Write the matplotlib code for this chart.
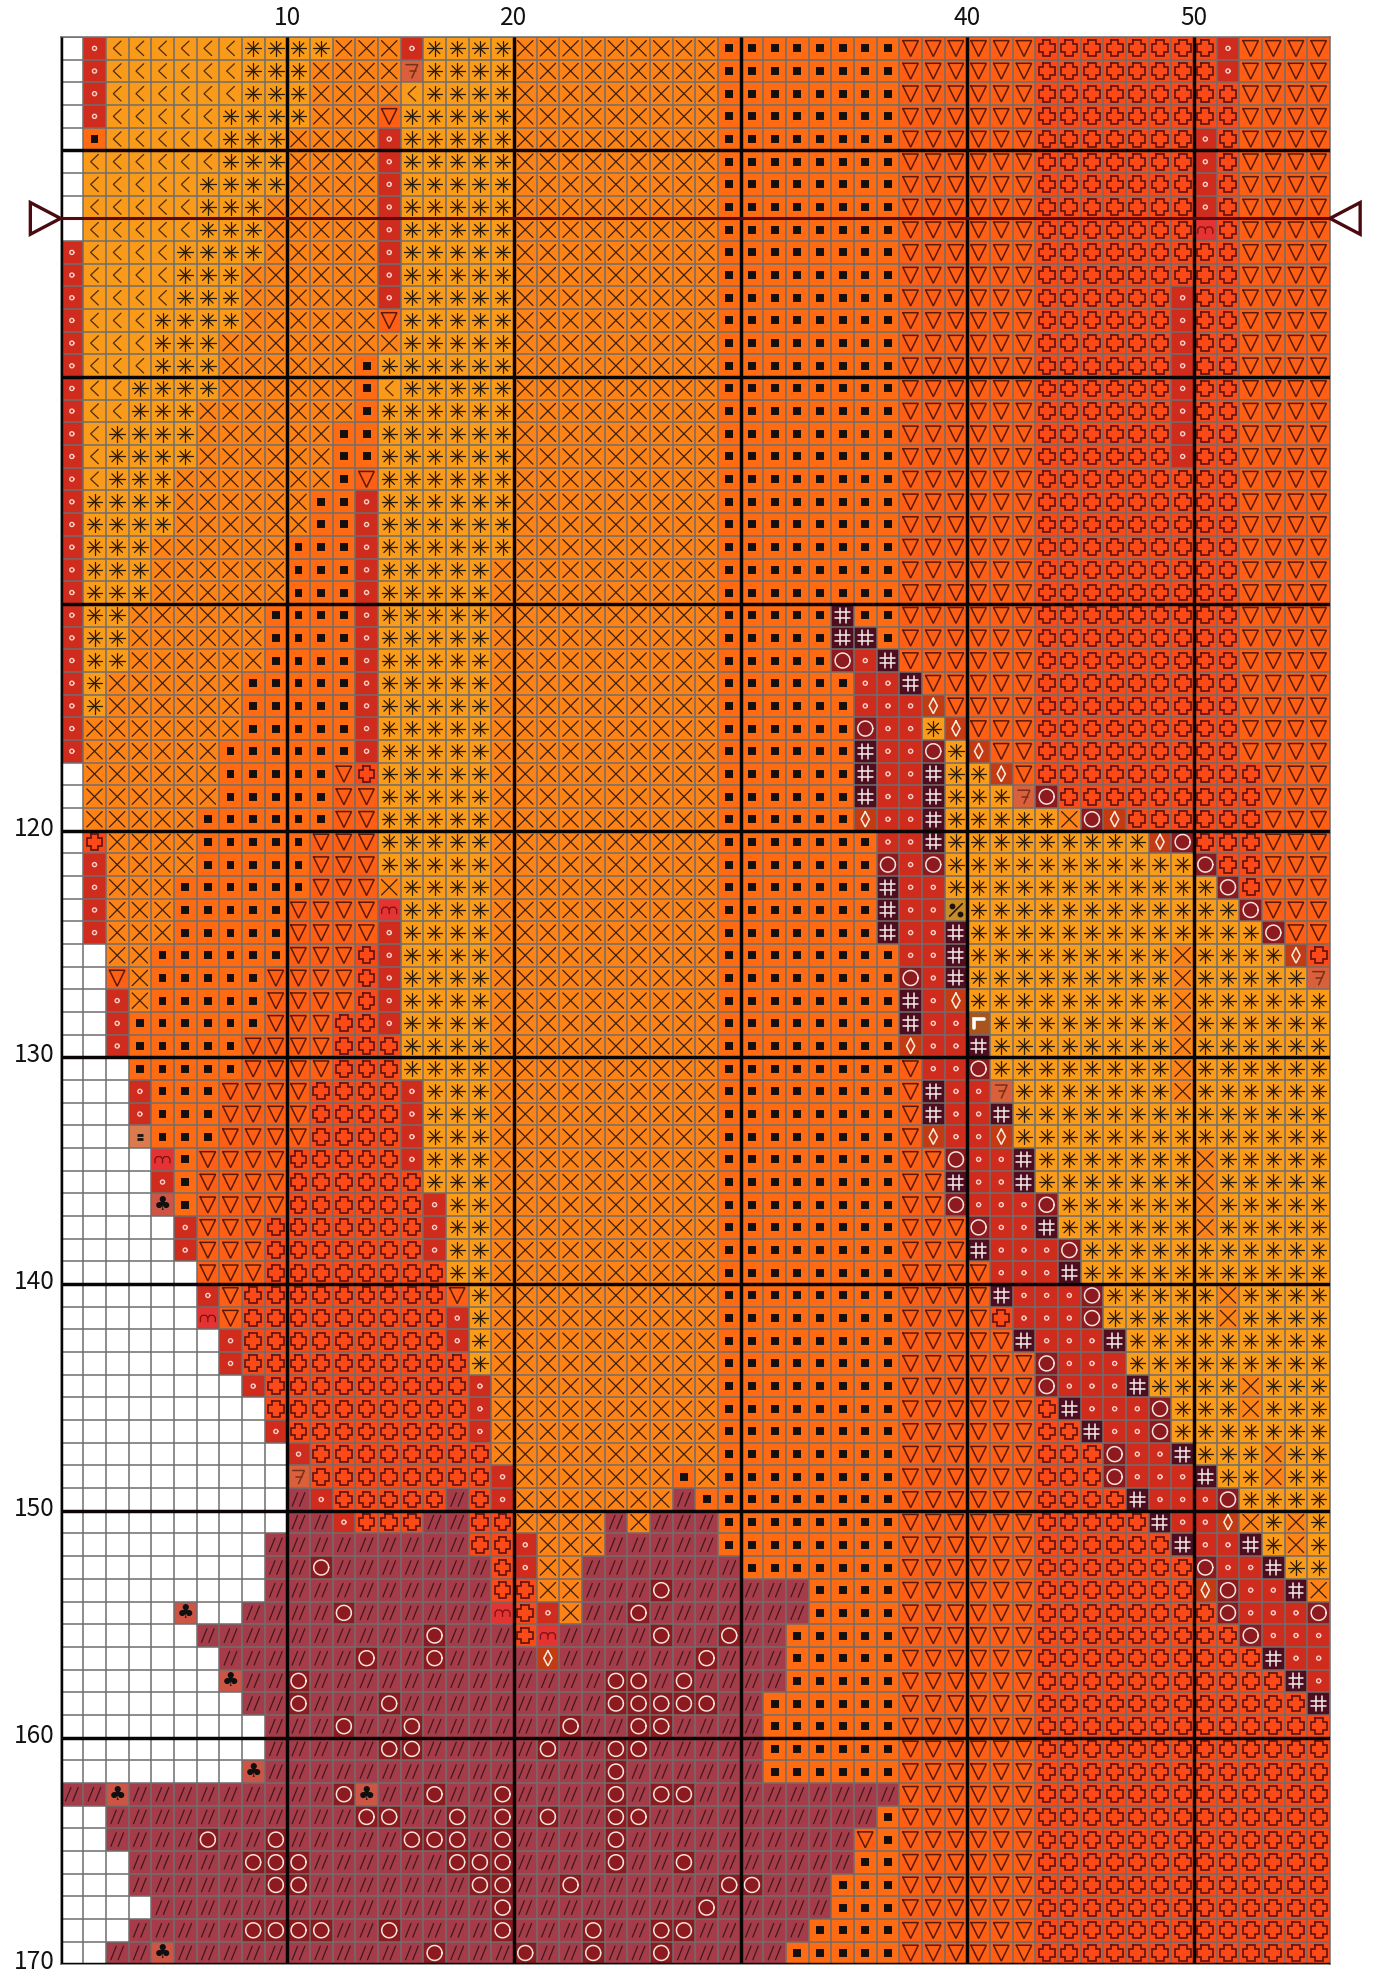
import numpy as np
import matplotlib
matplotlib.use("Agg")
import matplotlib.pyplot as plt
from matplotlib.collections import LineCollection
from matplotlib.colors import ListedColormap
from matplotlib.transforms import ScaledTranslation

# cross stitch chart, rows 86-170 and columns 1-56
first_row = 86
n_cols = 56

x_labels = [10, 20, 40, 50]
y_labels = [120, 130, 140, 150, 160, 170]
heavy_x = [0, 10, 20, 30, 40, 50]
heavy_y = [90, 100, 110, 120, 130, 140, 150, 160, 170]
center_row = 93

# one token per run: symbol + count
# . blank, o small ring, L chevron, S star, X cross, B square, T triangle, P plus
# O big ring, H hash, d diamond, / slashes, z seven, m em, c club, e equals, q percent, r corner
left_rows = [
    ". o L6 S4 X3 o S4 X9",
    ". o L6 S3 X4 z S4 X9",
    ". o L6 S3 X4 L S4 X9",
    ". o L5 S4 X3 T S5 X9",
    ". B L5 S3 X4 o S5 X9",
    ". L6 S3 X4 o S5 X9",
    ". L5 S4 X4 o S5 X9",
    ". L5 S3 X5 o S5 X9",
    ". L5 S3 X5 o S5 X9",
    "o L4 S4 X5 o S5 X9",
    "o L4 S3 X6 o S5 X9",
    "o L4 S3 X6 o S5 X9",
    "o L3 S4 X6 T S5 X9",
    "o L3 S3 X8 S5 X9",
    "o L3 S3 X6 B S6 X9",
    "o L2 S4 X6 B L S5 X9",
    "o L2 S3 X7 B S6 X9",
    "o L S4 X6 B2 S6 X9",
    "o L S4 X6 B2 S6 X9",
    "o L S3 X7 B T S6 X9",
    "o S4 X6 B2 o S6 X9",
    "o S4 X6 B2 o S6 X9",
    "o S3 X6 B3 o S6 X9",
    "o S3 X6 B3 o S5 X10",
    "o S3 X6 B3 o S5 X10",
    "o S2 X6 B4 o S5 X10",
    "o S2 X6 B4 o S5 X10",
    "o S2 X6 B4 o S5 X10",
    "o S X6 B5 o S5 X10",
    "o S X6 B5 o S5 X10",
    "o X7 B5 o S5 X10",
    "o X6 B6 o S5 X10",
    ". X6 B5 T P S5 X10",
    ". X6 B5 T2 S5 X10",
    ". X5 B6 T2 S5 X10",
    ". P X4 B5 T3 S5 X10",
    ". o X4 B5 T3 S5 X10",
    ". o X3 B6 T3 X S4 X10",
    ". o X3 B5 T4 m S4 X10",
    ". o X3 B5 T4 o S4 X10",
    ".2 X2 B6 T3 P o S4 X10",
    ".2 T X B5 T4 P o S4 X10",
    ".2 o X B5 T4 P o S4 X10",
    ".2 o B6 T3 P2 o S4 X10",
    ".2 o B5 T4 P3 S4 X10",
    ".3 B5 T4 P3 S4 X10",
    ".3 o B3 T4 P4 o S3 X10",
    ".3 o B3 T4 P4 o S3 X10",
    ".3 e B3 T4 P4 o S3 X10",
    ".4 m B T4 P5 o S3 X10",
    ".4 o B T4 P6 S3 X10",
    ".4 c B T4 P6 o S2 X10",
    ".5 o T3 P7 o S2 X10",
    ".5 o T3 P7 o S2 X10",
    ".6 T3 P8 S2 X10",
    ".6 o T P9 T S X10",
    ".6 m T P9 o S X10",
    ".7 o P9 o S X10",
    ".7 o P10 S X10",
    ".8 o P9 o X10",
    ".9 P9 o X10",
    ".9 o P8 o X10",
    ".10 o P8 X10",
    ".10 z P8 o X7 B X",
    ".10 / o P5 / P o X7 / B",
    ".10 /2 o P3 /2 P2 X4 / X /3",
    ".9 /9 P2 o X3 /5",
    ".9 /2 O /7 P o X2 /6",
    ".9 /10 P2 X2 /3 O /2",
    ".5 c .2 /4 O /6 m P o X /2 O /3",
    ".6 /10 O /3 P m /4 O /2",
    ".7 /6 O /2 O /4 d /6 O",
    ".7 c /2 O /13 O2 / O /",
    ".8 /2 O /3 O /9 O5",
    ".9 /3 O /2 O /6 O /2 O2 /2",
    ".9 /5 O2 /5 O /2 O2 /3",
    ".8 c /15 O /4",
    "/2 c /9 O c /2 O /2 O /4 O / O2 /",
    ".2 /11 O2 /2 O / O / O /2 O2 /3",
    ".2 /4 O /2 O /5 O3 / O /4 O /4",
    ".3 /5 O3 /6 O3 /4 O /2 O /",
    ".3 /6 O2 /7 O2 /2 O /6",
    ".4 /15 O /8 O",
    ".3 /5 O4 /2 O /4 O /3 O /2 O2 /",
    ".2 /2 c /11 O /3 O /2 O /2 O /2",
]

right_rows = [
    "B8 T6 P7 P o T4",
    "B8 T6 P7 P o T4",
    "B8 T6 P9 T4",
    "B8 T6 P9 T4",
    "B8 T6 P7 o P T4",
    "B8 T6 P7 o P T4",
    "B8 T6 P7 o P T4",
    "B8 T6 P7 o P T4",
    "B8 T6 P7 m P T4",
    "B8 T6 P9 T4",
    "B8 T6 P9 T4",
    "B8 T6 P6 o P2 T4",
    "B8 T6 P6 o P2 T4",
    "B8 T6 P6 o P2 T4",
    "B8 T6 P6 o P2 T4",
    "B8 T6 P6 o P2 T4",
    "B8 T6 P6 o P2 T4",
    "B8 T6 P6 o P2 T4",
    "B8 T6 P6 o P2 T4",
    "B8 T6 P9 T4",
    "B8 T6 P9 T4",
    "B8 T6 P9 T4",
    "B8 T6 P9 T4",
    "B8 T6 P9 T4",
    "B8 T6 P9 T4",
    "B5 H B2 T6 P9 T4",
    "B5 H2 B T6 P9 T4",
    "B5 O o H T6 P9 T4",
    "B6 o2 H T5 P9 T4",
    "B6 o3 d T4 P9 T4",
    "B6 O o2 S d T3 P9 T4",
    "B6 H o2 O S d T2 P9 T4",
    "B6 H o2 H S2 d T P10 T3",
    "B6 H o2 H S3 z O P9 T3",
    "B6 d o2 H S5 X O d P6 T3",
    "B7 o2 H S9 d O P3 T3",
    "B7 O o O S11 O P2 T3",
    "B7 H o2 S12 O P T3",
    "B7 H o2 q S12 O T3",
    "B7 H o2 H S13 O T2",
    "B8 o2 H S9 X S4 d P",
    "B8 O o H S9 X S5 z",
    "B8 H o d S9 X S6",
    "B8 H o2 r S8 X S6",
    "B8 d o2 H S8 X S6",
    "B8 T o2 O S8 X S6",
    "B8 T H o2 z S7 X S6",
    "B8 T H o2 H S14",
    "B8 T d o2 d S14",
    "B8 T2 O o2 H S7 X S5",
    "B8 T2 H o2 H S7 X S5",
    "B8 T2 O o3 O S6 X S5",
    "B8 T3 O o2 H S6 X S5",
    "B8 T3 H o3 O S11",
    "B8 T4 o3 H S11",
    "B8 T4 H o3 O S5 X S4",
    "B8 T4 P o3 O S5 X S4",
    "B8 T5 H o3 H S9",
    "B8 T6 O o3 S9",
    "B8 T6 O o3 H S4 X S3",
    "B8 T6 P H o3 O S3 X S3",
    "B8 T6 P2 H o2 O S7",
    "B8 T6 P3 O o2 H S3 X S2",
    "B8 T6 P3 O o3 H S2 X S2",
    "B8 T6 P4 H o3 O S4",
    "B8 T6 P5 H o2 d X S X S",
    "B8 T6 P6 H o2 H S X S",
    "/ B7 T6 P7 O o2 H S2",
    "/4 B4 T6 P7 d O o2 H X",
    "/4 B4 T6 P8 O o3 O",
    "O /2 B5 T6 P9 O o3",
    "/3 B5 T6 P10 H o2",
    "/3 B5 T6 P11 H o",
    "/2 B6 T6 P12 H",
    "/2 B6 T6 P13",
    "/2 B6 T6 P13",
    "/2 B6 T6 P13",
    "/8 T6 P13",
    "/7 B T6 P13",
    "/6 T B T6 P13",
    "/6 B2 T6 P13",
    "O2 /3 B3 T6 P13",
    "/5 B3 T6 P13",
    "/4 B4 T6 P13",
    "/3 B5 T6 P13",
]

fill_colors = {
    ".": "#ffffff", "L": "#f99a1a", "S": "#fa9b1a", "X": "#fd8317", "B": "#ff6b12",
    "T": "#fe5f14", "P": "#fb4a17", "o": "#cf2c1e", "O": "#8c1a1e", "H": "#4f0e20",
    "d": "#c43a12", "/": "#a63c4a", "z": "#d9603a", "m": "#e53333", "c": "#cc5546",
    "e": "#db7b4d", "q": "#c98b24", "r": "#a8541c",
}


def expand(row):
    cells = []
    for tok in row.split():
        cells += [tok[0]] * int(tok[1:] or 1)
    return cells


grid = [expand(a + " " + b) for a, b in zip(left_rows, right_rows)]
for i, r in enumerate(grid):
    assert len(r) == n_cols, (i + first_row, len(r))

syms = list(fill_colors)
idx = np.array([[syms.index(c) for c in r] for r in grid])

t = np.linspace(0, 2 * np.pi, 33)
d = 0.33 * np.sqrt(0.5)


def ring(rad):
    return [list(zip(rad * np.cos(t), rad * np.sin(t)))]


# symbol outlines, in cell units around the cell centre (y goes down)
glyphs = {
    "L": ("#4a2c0c", 0.9, [[(0.17, -0.32), (-0.17, 0), (0.17, 0.32)]]),
    "S": ("#2a1a08", 0.9, [[(0, -0.34), (0, 0.34)], [(-0.34, 0), (0.34, 0)],
                           [(-d, -d), (d, d)], [(-d, d), (d, -d)]]),
    "X": ("#3b1f0c", 0.9, [[(-0.34, -0.34), (0.34, 0.34)], [(-0.34, 0.34), (0.34, -0.34)]]),
    "B": ("#141010", 5.7, [[(-0.175, 0), (0.175, 0)]]),
    "T": ("#5a1a0a", 1.1, [[(-0.34, -0.34), (0.34, -0.34), (0, 0.36), (-0.34, -0.34)]]),
    "P": ("#5f1210", 1.2, [[(-0.17, -0.35), (0.17, -0.35), (0.17, -0.17), (0.35, -0.17),
                            (0.35, 0.17), (0.17, 0.17), (0.17, 0.35), (-0.17, 0.35),
                            (-0.17, 0.17), (-0.35, 0.17), (-0.35, -0.17), (-0.17, -0.17),
                            (-0.17, -0.35)]]),
    "o": ("#f8d0c8", 1.0, ring(0.09)),
    "O": ("#f5e4de", 1.1, ring(0.33)),
    "H": ("#f5eeee", 1.1, [[(-0.13, -0.33), (-0.13, 0.33)], [(0.13, -0.33), (0.13, 0.33)],
                           [(-0.33, -0.13), (0.33, -0.13)], [(-0.33, 0.13), (0.33, 0.13)]]),
    "d": ("#fbeee0", 1.1, [[(0, -0.34), (0.18, 0), (0, 0.34), (-0.18, 0), (0, -0.34)]]),
    "/": ("#3d1a1c", 0.9, [[(-0.28, 0.3), (-0.04, -0.3)], [(0.04, 0.3), (0.28, -0.3)]]),
    "z": ("#7a3018", 1.1, [[(-0.26, -0.28), (0.26, -0.28), (0.0, 0.3)], [(-0.1, 0.0), (0.16, 0.0)]]),
    "m": ("#7a1010", 0.9, [[(-0.33, 0.16), (-0.33, -0.02), (-0.25, -0.12), (-0.08, -0.12),
                            (0, -0.02), (0, 0.16)],
                           [(0, -0.02), (0.08, -0.12), (0.25, -0.12), (0.33, -0.02), (0.33, 0.16)]]),
    "e": ("#1c1410", 2.0, [[(-0.14, -0.09), (0.14, -0.09)], [(-0.14, 0.09), (0.14, 0.09)]]),
    "q": ("#1c1410", 1.1, [[(0.28, -0.28), (-0.28, 0.28)]]),
    "r": ("#ffffff", 2.6, [[(-0.22, 0.2), (-0.22, -0.2), (0.22, -0.2)]]),
}

fig = plt.figure(figsize=(13.77, 19.70), dpi=100)
ax = fig.add_axes([60.5 / 1377, 5.7 / 1970, 1269.5 / 1377, 1927.3 / 1970])

xe = np.arange(n_cols + 1)
ye = np.arange(first_row - 1, first_row + len(grid))
ax.pcolormesh(xe, ye, idx, cmap=ListedColormap([fill_colors[s] for s in syms]),
              vmin=0, vmax=len(syms) - 1, zorder=1)
ax.set_xlim(xe[0], xe[-1])
ax.set_ylim(ye[-1], ye[0])

# thin grid
ax.vlines(xe, ye[0], ye[-1], color="#6e6e6e", lw=1.1, zorder=2)
ax.hlines(ye, xe[0], xe[-1], color="#6e6e6e", lw=1.1, zorder=2)

# symbols
for sym, (col, lw, parts) in glyphs.items():
    segs = []
    rows, cols = np.where(np.array(grid) == sym)
    for r, c in zip(rows, cols):
        cx = c + 0.5
        cy = first_row + r - 0.5
        for p in parts:
            segs.append([(cx + px, cy + py) for px, py in p])
    capstyle = "butt" if sym in ("B", "e") else "round"
    ax.add_collection(LineCollection(segs, colors=col, linewidths=lw, zorder=3,
                                     capstyle=capstyle, joinstyle="miter"))

for r, c in zip(*np.where(np.array(grid) == "c")):
    ax.text(c + 0.5, first_row + r - 0.5, "\u2663", color="#101010", fontsize=14,
            family="DejaVu Sans", ha="center", va="center", zorder=3)
for r, c in zip(*np.where(np.array(grid) == "q")):
    ax.plot([c + 0.5 - 0.17, c + 0.5 + 0.17], [first_row + r - 0.5 - 0.17, first_row + r - 0.5 + 0.17],
            "o", color="#1c1410", ms=3.2, zorder=3)

# heavy ten-count lines
ax.vlines(heavy_x, ye[0], ye[-1], color="#0a0505", lw=2.5, zorder=4)
ax.hlines(heavy_y, xe[0], xe[-1], color="#0a0505", lw=2.5, zorder=4)

# centre marks
ax.hlines(center_row, xe[0], xe[-1], color="#5c0a10", lw=2.2, zorder=5)
ax.fill([0, -1.33, -1.33, 0], [center_row, center_row - 0.7, center_row + 0.7, center_row],
        facecolor="white", edgecolor="#4a0a10", lw=2.4, clip_on=False, zorder=5)
ax.fill([56, 57.33, 57.33, 56], [center_row, center_row - 0.7, center_row + 0.7, center_row],
        facecolor="white", edgecolor="#4a0a10", lw=2.4, clip_on=False, zorder=5)

ax.set_xticks(x_labels)
ax.set_yticks(y_labels)
ax.xaxis.tick_top()
ax.tick_params(length=0, labelsize=17.6, colors="#111111", pad=4)
for lab in ax.get_xticklabels() + ax.get_yticklabels():
    lab.set_family("Noto Sans CJK JP")
# row numbers sit a little above their line
up = ScaledTranslation(0, 5 / 100, fig.dpi_scale_trans)
for lab in ax.get_yticklabels():
    lab.set_transform(lab.get_transform() + up)
for s in ax.spines.values():
    s.set_color("#6e6e6e")
    s.set_linewidth(1.1)
    s.set_zorder(2)

fig.savefig("out.png", dpi=100)
